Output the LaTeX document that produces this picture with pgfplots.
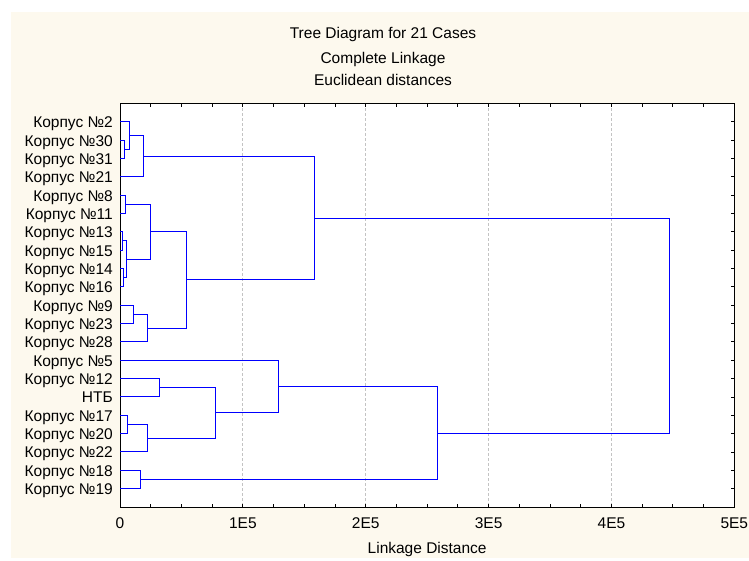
\documentclass[border=0pt]{standalone}
\usepackage{pgfplots}
\pgfplotsset{compat=1.18}
\usepackage{fontspec}
\setmainfont{Liberation Sans}

\definecolor{stcream}{RGB}{253,249,238}
\definecolor{stgrid}{RGB}{195,195,195}
\definecolor{stblue}{RGB}{0,0,255}
\pgfplotsset{link/.style={stblue, solid, line width=0.95pt, mark=none}}

\begin{document}
\begin{tikzpicture}
% page background: white strip, cream panel
\fill[white] (0pt,0pt) rectangle (749pt,558pt);
\fill[stcream] (11pt,0pt) rectangle (749pt,546pt);

\begin{axis}[
    at={(120pt,51pt)}, anchor=south west,
    scale only axis, width=614.3pt, height=403.7pt,
    xmin=0, xmax=500000,
    ymin=0, ymax=22, y dir=reverse,
    axis background/.style={fill=white},
    axis line style={black, line width=0.8pt},
    font=\fontsize{15.5}{17}\selectfont,
    % x axis
    scaled x ticks=false,
    xtick={0,100000,200000,300000,400000,500000},
    xticklabels={0,1E5,2E5,3E5,4E5,5E5},
    minor x tick num=3,
    xtick pos=both,
    xmajorgrids,
    grid style={stgrid, dash pattern=on 3pt off 2pt, line width=0.8pt},
    x tick label style={anchor=base, inner sep=0pt, yshift=-21.5pt},
    xlabel={Linkage Distance},
    xlabel style={at={(axis description cs:0.5,0)}, anchor=base, yshift=-46.5pt},
    % y axis: one row per case
    ytick={1,...,21},
    yticklabels={Корпус №2,Корпус №30,Корпус №31,Корпус №21,Корпус №8,Корпус №11,
        Корпус №13,Корпус №15,Корпус №14,Корпус №16,Корпус №9,Корпус №23,Корпус №28,
        Корпус №5,Корпус №12,НТБ,Корпус №17,Корпус №20,Корпус №22,Корпус №18,Корпус №19},
    ytick pos=right, yticklabel pos=left,
    y tick label style={anchor=base east, inner sep=0pt, xshift=-7pt, yshift=-6pt},
    major tick length=3.5pt, minor tick length=3.5pt,
    tick style={black, line width=0.8pt},
]
% each link: (child1 height, y) -> (merge height, y) -> (merge height, y2) -> (child2 height, y2)
% 30 + 31
\addplot[link] coordinates {(0,2) (4000,2) (4000,3) (0,3)};
% 2 + (30,31)
\addplot[link] coordinates {(0,1) (8000,1) (8000,2.5) (4000,2.5)};
% + 21
\addplot[link] coordinates {(8000,1.75) (19500,1.75) (19500,4) (0,4)};
% 8 + 11
\addplot[link] coordinates {(0,5) (4600,5) (4600,6) (0,6)};
% 13 + 15
\addplot[link] coordinates {(0,7) (1900,7) (1900,8) (0,8)};
% 14 + 16
\addplot[link] coordinates {(0,9) (2700,9) (2700,10) (0,10)};
% (13,15) + (14,16)
\addplot[link] coordinates {(1900,7.5) (5400,7.5) (5400,9.5) (2700,9.5)};
% (8,11) + (13..16)
\addplot[link] coordinates {(4600,5.5) (24600,5.5) (24600,8.5) (5400,8.5)};
% 9 + 23
\addplot[link] coordinates {(0,11) (11100,11) (11100,12) (0,12)};
% + 28
\addplot[link] coordinates {(11100,11.5) (22500,11.5) (22500,13) (0,13)};
% (8..16) + (9,23,28)
\addplot[link] coordinates {(24600,7) (53900,7) (53900,12.25) (22500,12.25)};
% (2,30,31,21) + (8..28)
\addplot[link] coordinates {(19500,2.875) (158000,2.875) (158000,9.625) (53900,9.625)};
% 12 + НТБ
\addplot[link] coordinates {(0,15) (32000,15) (32000,16) (0,16)};
% 17 + 20
\addplot[link] coordinates {(0,17) (5900,17) (5900,18) (0,18)};
% + 22
\addplot[link] coordinates {(5900,17.5) (22500,17.5) (22500,19) (0,19)};
% (12,НТБ) + (17,20,22)
\addplot[link] coordinates {(32000,15.5) (77800,15.5) (77800,18.25) (22500,18.25)};
% 5 + (12..22)
\addplot[link] coordinates {(0,14) (128700,14) (128700,16.875) (77800,16.875)};
% 18 + 19
\addplot[link] coordinates {(0,20) (16300,20) (16300,21) (0,21)};
% (5..22) + (18,19)
\addplot[link] coordinates {(128700,15.4375) (258300,15.4375) (258300,20.5) (16300,20.5)};
% top link
\addplot[link] coordinates {(158000,6.25) (447000,6.25) (447000,17.96875) (258300,17.96875)};
\end{axis}

% title block
\node[anchor=base, font=\fontsize{15.5}{17}\selectfont] at (383pt,519.5pt) {Tree Diagram for 21 Cases};
\node[anchor=base, font=\fontsize{15.5}{17}\selectfont] at (383pt,494.7pt) {Complete Linkage};
\node[anchor=base, font=\fontsize{15.5}{17}\selectfont] at (383pt,472pt) {Euclidean distances};
\end{tikzpicture}
\end{document}
